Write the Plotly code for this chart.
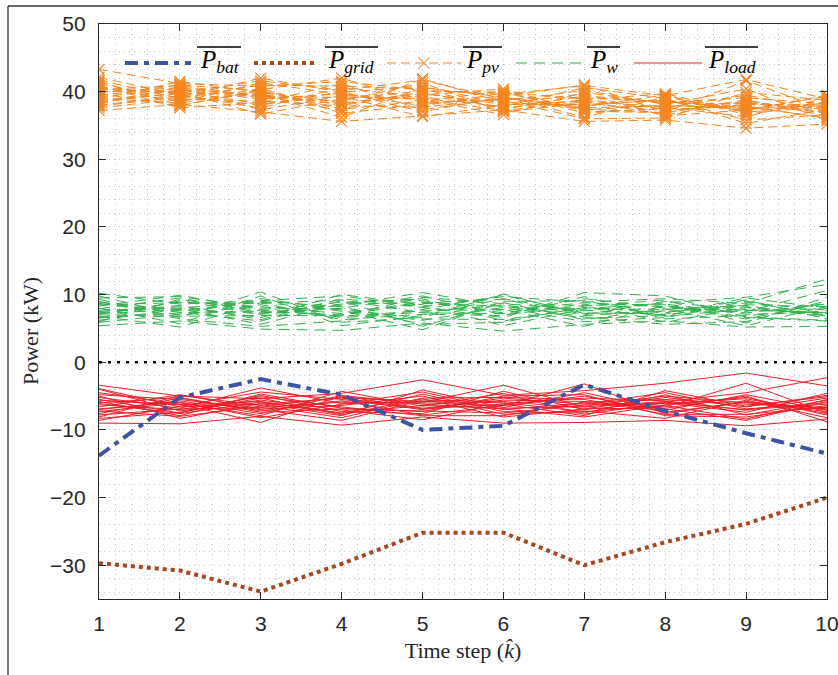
import plotly.graph_objects as go

# Time steps
steps = [1, 2, 3, 4, 5, 6, 7, 8, 9, 10]

# Mean battery and grid power (kW)
p_bat = [-13.8, -5.2, -2.5, -4.8, -10.0, -9.4, -3.3, -7.2, -10.5, -13.5]
p_grid = [-29.7, -30.8, -33.9, -29.8, -25.2, -25.2, -30.0, -26.6, -23.9, -20.0]

# PV power scenarios (kW)
p_pv = [
    [43.3, 41.2, 40.8, 41.5, 40.2, 39.6, 40.9, 39.4, 41.8, 38.9],
    [37.2, 38.1, 37.0, 35.6, 36.4, 37.3, 35.6, 35.8, 34.6, 35.2],
    [40.5, 39.8, 41.6, 40.2, 41.7, 38.9, 39.1, 38.5, 37.6, 37.9],
    [38.6, 40.3, 38.9, 39.7, 37.9, 39.8, 37.4, 36.9, 38.8, 36.4],
    [41.2, 38.7, 39.6, 38.1, 39.9, 37.6, 38.8, 39.7, 36.9, 38.5],
    [39.4, 41.0, 40.1, 37.4, 38.6, 40.1, 36.8, 37.6, 39.5, 37.1],
    [37.9, 39.2, 42.0, 39.9, 40.8, 38.2, 39.7, 36.4, 37.3, 39.3],
    [40.9, 37.6, 38.4, 41.2, 37.3, 39.1, 37.9, 38.9, 35.8, 36.6],
    [38.2, 40.7, 39.1, 38.6, 41.3, 37.0, 38.3, 37.2, 38.1, 38.0],
    [42.1, 39.5, 37.6, 40.6, 39.1, 38.6, 40.2, 38.1, 40.4, 35.7],
    [39.0, 38.3, 40.5, 36.8, 38.1, 39.4, 36.2, 39.2, 37.0, 37.6],
    [40.1, 40.0, 38.2, 39.3, 36.3, 38.0, 38.6, 37.7, 36.3, 39.1],
    [38.9, 41.5, 39.9, 38.0, 39.5, 40.4, 37.1, 36.9, 38.6, 36.9],
    [41.7, 39.0, 41.0, 40.8, 40.4, 37.4, 39.4, 38.4, 39.1, 38.2],
    [37.6, 38.9, 38.6, 37.9, 37.7, 39.0, 37.6, 37.9, 37.7, 36.2],
    [40.3, 40.9, 39.3, 39.1, 39.0, 37.8, 40.6, 39.0, 35.3, 37.4],
    [39.7, 37.9, 40.3, 42.0, 38.4, 38.7, 36.0, 36.1, 39.9, 38.7],
    [38.4, 39.9, 36.7, 38.9, 40.1, 39.9, 38.9, 37.4, 37.9, 36.0],
    [40.7, 38.5, 41.3, 39.6, 38.8, 36.6, 39.9, 38.2, 38.3, 37.8],
    [39.2, 40.5, 39.4, 37.2, 41.9, 38.4, 37.8, 39.5, 36.6, 38.4],
    [38.0, 39.4, 38.0, 40.0, 37.0, 39.3, 41.0, 37.0, 41.6, 37.3],
    [41.5, 38.0, 40.1, 38.3, 39.7, 38.1, 38.1, 38.7, 37.2, 39.5],
    [39.9, 40.6, 37.3, 39.4, 38.9, 37.2, 38.5, 36.6, 38.4, 36.8],
    [38.7, 39.7, 39.7, 36.2, 40.6, 39.2, 37.3, 38.0, 37.5, 37.7],
]

# Wind power scenarios (kW)
p_w = [
    [10.2, 8.6, 9.1, 9.8, 8.2, 9.7, 8.9, 9.4, 8.7, 12.3],
    [5.4, 6.1, 4.9, 4.7, 5.8, 4.6, 5.6, 6.1, 5.2, 5.3],
    [7.9, 9.5, 7.3, 8.4, 10.3, 8.2, 7.6, 8.8, 9.6, 11.5],
    [6.8, 5.2, 8.8, 6.3, 7.1, 6.9, 9.7, 6.4, 6.9, 7.6],
    [8.7, 7.4, 6.1, 9.1, 5.3, 8.8, 6.3, 7.9, 5.4, 8.3],
    [7.1, 8.9, 8.2, 7.2, 8.9, 7.3, 8.6, 5.9, 8.1, 6.9],
    [9.3, 6.6, 10.4, 5.9, 6.6, 10.1, 7.0, 9.0, 7.6, 7.9],
    [6.2, 7.9, 5.6, 8.7, 9.4, 6.1, 8.1, 7.3, 9.2, 6.4],
    [8.3, 9.9, 7.8, 6.8, 7.6, 7.8, 5.3, 8.4, 6.4, 8.8],
    [5.9, 7.1, 9.4, 7.7, 4.8, 9.0, 9.1, 6.8, 7.8, 7.2],
    [7.5, 8.2, 6.6, 10.0, 8.5, 5.4, 7.9, 7.8, 8.4, 6.6],
    [9.8, 6.9, 8.5, 6.6, 7.4, 8.5, 6.7, 5.6, 6.0, 9.1],
    [6.5, 9.1, 7.1, 8.0, 9.8, 7.0, 8.4, 8.6, 7.1, 7.4],
    [8.0, 5.7, 9.8, 5.4, 6.9, 9.4, 7.3, 7.1, 9.5, 8.0],
    [7.3, 8.4, 6.3, 9.4, 8.1, 6.6, 10.3, 9.8, 6.7, 6.2],
    [8.9, 7.6, 8.9, 7.5, 6.2, 8.1, 6.0, 6.6, 8.8, 7.7],
    [6.0, 9.3, 7.6, 8.9, 9.1, 7.6, 8.8, 8.2, 7.3, 8.6],
    [9.0, 6.4, 5.3, 6.1, 7.8, 9.9, 7.2, 7.5, 8.2, 7.0],
    [7.7, 8.0, 9.0, 8.2, 5.6, 5.9, 8.3, 9.2, 5.8, 9.6],
    [6.6, 7.3, 7.5, 7.0, 8.7, 8.3, 6.5, 6.9, 9.0, 6.8],
    [8.5, 8.8, 8.7, 9.2, 7.3, 7.2, 9.4, 8.0, 7.7, 7.3],
    [7.0, 6.8, 6.9, 6.9, 9.6, 8.7, 7.7, 7.0, 8.5, 8.2],
    [9.5, 9.7, 8.0, 7.9, 6.4, 6.3, 8.0, 8.5, 6.6, 6.1],
    [7.2, 7.8, 7.2, 8.6, 8.8, 9.3, 6.9, 7.6, 7.5, 10.6],
]

# Load power scenarios (kW)
p_load = [
    [-3.4, -5.0, -5.4, -4.6, -2.6, -4.9, -4.2, -3.1, -1.6, -3.5],
    [-9.0, -9.1, -8.0, -9.3, -8.1, -9.0, -8.9, -8.6, -9.4, -8.4],
    [-5.2, -6.8, -3.8, -6.1, -5.9, -3.4, -6.6, -5.8, -4.5, -2.3],
    [-7.6, -5.3, -7.2, -5.7, -7.8, -6.4, -3.2, -7.6, -5.8, -6.9],
    [-6.1, -7.6, -5.9, -7.6, -4.7, -7.3, -7.5, -4.8, -7.8, -5.6],
    [-4.5, -6.2, -8.9, -5.0, -6.8, -5.6, -5.8, -6.6, -3.1, -7.5],
    [-8.1, -4.9, -6.4, -8.2, -5.4, -8.1, -6.9, -5.2, -6.6, -4.9],
    [-5.8, -7.9, -4.7, -6.8, -7.3, -5.0, -4.8, -7.9, -8.1, -6.4],
    [-7.0, -5.7, -7.6, -4.9, -6.2, -6.9, -8.1, -6.3, -5.2, -7.8],
    [-4.0, -7.2, -5.6, -7.1, -8.5, -6.1, -5.3, -5.7, -7.1, -5.3],
    [-6.6, -4.8, -6.9, -6.4, -5.0, -7.7, -7.2, -8.3, -5.6, -8.2],
    [-8.6, -6.5, -4.4, -5.5, -7.0, -5.3, -6.2, -4.5, -6.9, -6.0],
    [-5.0, -8.3, -6.1, -7.9, -4.1, -6.7, -4.5, -7.1, -4.8, -7.1],
    [-7.3, -6.0, -7.9, -4.3, -6.5, -4.6, -7.7, -6.0, -7.4, -4.6],
    [-6.3, -7.0, -5.1, -6.6, -7.9, -7.9, -5.9, -5.5, -6.2, -6.7],
    [-4.8, -5.5, -7.0, -8.6, -5.6, -5.8, -6.8, -6.9, -8.6, -5.8],
    [-7.8, -6.9, -6.7, -5.9, -6.0, -6.4, -5.0, -7.4, -5.9, -7.3],
    [-5.5, -7.5, -4.9, -7.3, -7.6, -4.3, -7.0, -5.9, -7.0, -6.2],
    [-6.9, -5.9, -8.2, -6.2, -4.4, -7.0, -6.0, -6.8, -5.0, -8.8],
    [-3.9, -6.6, -6.2, -5.3, -6.9, -6.2, -7.9, -4.2, -6.5, -5.1],
    [-8.3, -7.4, -5.3, -7.8, -5.3, -5.2, -5.5, -7.7, -7.7, -6.6],
    [-6.0, -5.2, -7.4, -6.9, -7.2, -7.5, -6.3, -6.1, -5.4, -7.6],
    [-7.2, -8.0, -6.5, -5.2, -5.8, -6.0, -7.3, -6.4, -8.4, -5.5],
    [-5.6, -6.3, -5.8, -7.5, -6.4, -6.8, -6.5, -5.0, -6.0, -7.0],
]

# Legend entries: subscript text of each overlined P
legend_subs = ["bat", "grid", "pv", "w", "load"]

C_BAT = "#3A54A6"
C_GRID = "#A5471F"
C_PV = "#F5861F"
C_W = "#2FB24B"
C_LOAD = "#EC1E27"

STYLE = {
    "bat": dict(color=C_BAT, width=4, dash="13px,6px,5px,6px"),
    "grid": dict(color=C_GRID, width=4, dash="4px,4px"),
    "pv": dict(color=C_PV, width=1, dash="9px,5px"),
    "w": dict(color=C_W, width=1, dash="11px,7px"),
    "load": dict(color=C_LOAD, width=1),
}
PV_MARKER = dict(symbol="x-thin-open", size=11, line=dict(color=C_PV, width=1.2))

fig = go.Figure()

for row in p_pv:
    fig.add_trace(go.Scatter(x=steps, y=row, mode="lines+markers",
                             line=STYLE["pv"], marker=PV_MARKER,
                             showlegend=False, hoverinfo="skip"))
for row in p_w:
    fig.add_trace(go.Scatter(x=steps, y=row, mode="lines", line=STYLE["w"],
                             showlegend=False, hoverinfo="skip"))
for row in p_load:
    fig.add_trace(go.Scatter(x=steps, y=row, mode="lines", line=STYLE["load"],
                             showlegend=False, hoverinfo="skip"))

fig.add_trace(go.Scatter(x=steps, y=p_bat, mode="lines", line=STYLE["bat"],
                         showlegend=False))
fig.add_trace(go.Scatter(x=steps, y=p_grid, mode="lines", line=STYLE["grid"],
                         showlegend=False))

# zero reference line
fig.add_shape(type="line", xref="x", yref="y", x0=1, x1=10, y0=0, y1=0,
              line=dict(color="black", width=2.5, dash="3px,6px"), layer="above")

# ---- in-axes legend, laid out on a pixel-scaled overlay axis ----
PW, PH = 728, 575           # plot area size in px
leg_sample_x = [(26, 92), (155, 218), (288, 362), (417, 484), (535, 603)]
leg_label_x = [99, 227, 365, 489, 607]
leg_bar_x = [(98, 142), (226, 279), (364, 403), (488, 521), (606, 659)]
leg_line_y = PH - 39
leg_text_y = PH - 37
leg_bar_y = PH - 23

for sub, (sx0, sx1), lx, (bx0, bx1) in zip(legend_subs, leg_sample_x,
                                           leg_label_x, leg_bar_x):
    fig.add_shape(type="line", xref="x2", yref="y2", x0=sx0, x1=sx1,
                  y0=leg_line_y, y1=leg_line_y, line=STYLE[sub], layer="above")
    if sub == "pv":
        fig.add_trace(go.Scatter(x=[(sx0 + sx1) / 2], y=[leg_line_y],
                                 xaxis="x2", yaxis="y2", mode="markers",
                                 marker=PV_MARKER, showlegend=False,
                                 hoverinfo="skip"))
    fig.add_annotation(xref="x2", yref="y2", x=lx, y=leg_text_y,
                       xanchor="left", yanchor="middle", showarrow=False,
                       text=f"<i>P</i><sub><i>{sub}</i></sub>",
                       font=dict(family="Liberation Serif", size=25, color="black"))
    fig.add_shape(type="line", xref="x2", yref="y2", x0=bx0, x1=bx1,
                  y0=leg_bar_y, y1=leg_bar_y,
                  line=dict(color="black", width=1.6), layer="above")

# outer figure frame (top and left edges), ending at the page border
FX0 = -91 / PW
FX1 = 739 / PW
FY0 = -76 / PH
FY1 = 1 + 18 / PH
fig.add_shape(type="line", xref="paper", yref="paper",
              x0=FX0, x1=FX1, y0=FY1, y1=FY1,
              line=dict(color="#333333", width=1.3))
fig.add_shape(type="line", xref="paper", yref="paper",
              x0=FX0, x1=FX0, y0=FY0, y1=FY1,
              line=dict(color="#333333", width=1.3))

grid_col = "#c4c4c4"
grid_dash = "1px,4px"
axis_common = dict(
    showline=True, linecolor="#262626", linewidth=1.2, mirror="ticks",
    ticks="inside", ticklen=7, tickcolor="#262626", tickwidth=1.2,
    showgrid=True, gridcolor=grid_col, griddash=grid_dash, gridwidth=1,
    zeroline=False, ticklabeloverflow="allow", automargin=False,
    tickfont=dict(family="Liberation Sans", size=21, color="#262626"),
)

fig.update_xaxes(
    range=[1, 10], dtick=1, tick0=1,
    minor=dict(dtick=0.2, showgrid=True, gridcolor=grid_col, griddash=grid_dash,
               gridwidth=1, ticks=""),
    ticklabelstandoff=6,
    title=dict(text="Time step (<i>k̂</i>)",
               font=dict(family="Liberation Serif", size=22, color="#262626"),
               standoff=8),
    **axis_common)

fig.update_yaxes(
    range=[-35, 50], dtick=10, tick0=0,
    minor=dict(dtick=2, showgrid=True, gridcolor=grid_col, griddash=grid_dash,
               gridwidth=1, ticks=""),
    ticklabelstandoff=8,
    **axis_common)

# y-axis title
fig.add_annotation(xref="paper", yref="paper", x=-69 / PW, y=268 / PH,
                   xanchor="center", yanchor="middle", textangle=-90,
                   showarrow=False, text="Power (kW)",
                   font=dict(family="Liberation Serif", size=22, color="#262626"))

fig.update_layout(
    width=838, height=675,
    margin=dict(l=99, r=11, t=24, b=76),
    paper_bgcolor="white", plot_bgcolor="white",
    showlegend=False,
    xaxis2=dict(overlaying="x", range=[0, PW], visible=False, fixedrange=True),
    yaxis2=dict(overlaying="y", range=[0, PH], visible=False, fixedrange=True),
)

fig.write_html("out.html")
